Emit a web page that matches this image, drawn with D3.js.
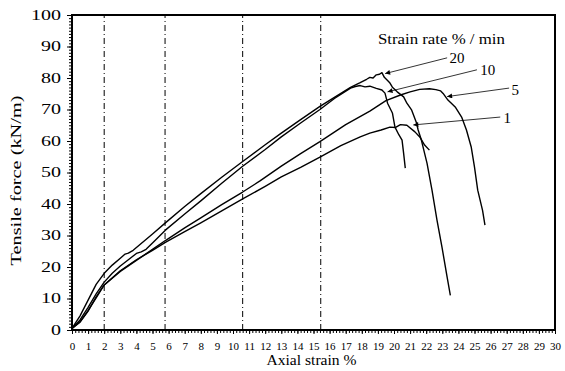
<!DOCTYPE html>
<html>
<head>
<meta charset="utf-8">
<script src="https://cdn.jsdelivr.net/npm/d3@7"></script>
<style>
body { margin: 0; background: #fff; }
svg text { fill: #000; }
</style>
</head>
<body>
<script>
var width = 565, height = 371;
var margin = {left: 72, top: 15, right: 10, bottom: 41};
var serif = "'Liberation Serif', 'Times New Roman', serif";

// strain (%) and force (kN/m)
var rate20 = [[0,0.5],[0.5,4.5],[1,9.5],[1.5,14.5],[2,18],[2.5,20.6],[3,22.8],[3.3,24.1],[3.5,24.4],[3.8,25.3],[5,30.5],[5.8,34],
  [7,39.2],[8,43.3],[9.3,48.5],[10.6,53.5],[12,58.8],[13,62.5],[14.2,66.8],[15.4,71],[16.5,74.5],[17.3,77],[17.9,78.5],
  [18.3,79.6],[18.5,80.2],[18.7,80],[18.9,81],[19.1,81.2],[19.25,81.7],[19.4,80.2],[19.6,79.2],[19.75,78.4],[19.9,77.1],
  [20.2,75.6],[20.6,74],[20.8,72],[21.1,69.8],[21.4,65.7],[21.5,63.5],[21.7,60.3],[22.05,53],[22.36,44.4],[22.67,34.9],
  [22.98,26.3],[23.3,16.8],[23.5,11]];
var rate10 = [[0,0.5],[0.5,3.2],[1,7.2],[1.5,11.5],[2,15.2],[2.5,18],[3,20.3],[3.5,22.3],[4,24.3],[4.3,24.8],[4.6,25.6],[5,27.6],[5.8,31.7],
  [7,36.8],[8,41],[9.3,46.6],[10.6,52],[12,57.3],[13,61.3],[14.2,65.7],[15.4,70],[16.3,73.5],[17.3,76.8],[17.6,77.3],
  [17.9,77.6],[18.2,77.2],[18.5,77.4],[18.9,76.7],[19.25,76.2],[19.44,75.2],[19.6,72],[19.9,68.9],[20.06,64.4],[20.3,62],
  [20.5,60.3],[20.6,56],[20.7,51.4]];
var rate5 = [[0,0.5],[0.5,2.6],[1,6.2],[1.5,10.2],[2,14.3],[3,18.6],[4,22.1],[5,25.6],[5.8,28.4],[7,32.4],[8,35.6],
  [9.3,39.8],[10.6,43.8],[11.7,47.4],[13,52],[14.2,56],[15.4,59.8],[17,65.2],[18.5,69.5],[19.5,72.8],[20.4,74.6],
  [21,75.6],[21.6,76.4],[22.2,76.6],[22.6,76.3],[22.9,75.9],[23.05,75.1],[23.35,73],[23.8,70.8],[24.2,67.6],
  [24.5,63.5],[24.8,58],[25,51.7],[25.2,44.4],[25.5,38],[25.65,33.3]];
var rate1 = [[0,0.5],[0.5,2.5],[1,6],[1.5,10.5],[2,14.3],[3,18.8],[4,22.3],[5,25.3],[5.8,27.8],[7,31.2],[8,34],[9.3,37.8],
  [10.6,41.6],[12,45.6],[13,48.6],[14.2,51.6],[15.4,54.9],[16.7,58.5],[17.9,61.3],[18.5,62.5],[19.2,63.5],[19.75,64.4],
  [20.1,64.3],[20.4,65.2],[20.8,65],[21.3,62.9],[21.6,61.3],[21.9,58.7],[22.2,57.1]];
var series = [rate1, rate5, rate10, rate20];

var refLines = [2, 5.78, 10.6, 15.45];
var xTicks = d3.range(0, 31, 1);
var yTicks = d3.range(0, 101, 10);

var labelNames = ["20", "10", "5", "1"];
var labelPos = [[23.45, 86.3], [25.35, 82.7], [27.3, 76.4], [26.8, 67.4]];
var arrowFrom = [[23.3, 86.4], [25.15, 82.6], [27.15, 76.8], [26.6, 67.6]];
var arrowTo = [[19.45, 81.4], [19.6, 75.6], [23.3, 74.1], [21.2, 65.1]];

var x = d3.scaleLinear().domain([0, 30]).range([margin.left, width - margin.right]);
var y = d3.scaleLinear().domain([0, 100]).range([height - margin.bottom, margin.top]);

var svg = d3.select("body").append("svg")
  .attr("width", width).attr("height", height);

svg.append("defs").append("marker")
  .attr("id", "arr").attr("viewBox", "0 0 10 10")
  .attr("refX", 10).attr("refY", 5)
  .attr("markerWidth", 7).attr("markerHeight", 5)
  .attr("markerUnits", "userSpaceOnUse")
  .attr("orient", "auto")
  .append("path").attr("d", "M0,0L10,5L0,10z").attr("fill", "#000");

// dash-dot reference lines
svg.selectAll(".ref").data(refLines).enter().append("line")
  .attr("x1", function(d) { return x(d); }).attr("x2", function(d) { return x(d); })
  .attr("y1", y(0)).attr("y2", y(100))
  .attr("stroke", "#000").attr("stroke-width", 1)
  .attr("stroke-dasharray", "6,3,1,3");

// minor ticks
svg.append("g").attr("transform", "translate(0," + y(0) + ")")
  .call(d3.axisBottom(x).tickValues(d3.range(0, 30.01, 0.2)).tickSize(3).tickFormat(""))
  .call(function(g) { g.select(".domain").remove(); });
svg.append("g").attr("transform", "translate(" + x(0) + ",0)")
  .call(d3.axisLeft(y).tickValues(d3.range(0, 100.1, 1)).tickSize(3).tickFormat(""))
  .call(function(g) { g.select(".domain").remove(); });

// major ticks + labels
var xa = svg.append("g").attr("transform", "translate(0," + y(0) + ")")
  .call(d3.axisBottom(x).tickValues(xTicks).tickSize(4).tickPadding(8));
xa.attr("font-family", serif);
xa.select(".domain").remove();
xa.selectAll("text").attr("font-size", 11);

var ya = svg.append("g").attr("transform", "translate(" + x(0) + ",0)")
  .call(d3.axisLeft(y).tickValues(yTicks).tickSize(5).tickPadding(6));
ya.attr("font-family", serif);
ya.select(".domain").remove();
ya.selectAll("text").attr("font-size", 14)
  .attr("textLength", function(d) { return String(d).length * 10; })
  .attr("lengthAdjust", "spacingAndGlyphs");

// frame
svg.append("rect")
  .attr("x", x(0)).attr("y", y(100))
  .attr("width", x(30) - x(0)).attr("height", y(0) - y(100))
  .attr("fill", "none").attr("stroke", "#000").attr("stroke-width", 2);

var line = d3.line()
  .x(function(d) { return x(d[0]); })
  .y(function(d) { return y(d[1]); });

svg.selectAll(".curve").data(series).enter().append("path")
  .attr("d", line)
  .attr("fill", "none").attr("stroke", "#000").attr("stroke-width", 1.4)
  .attr("stroke-linejoin", "round");

// annotations
svg.selectAll(".arrow").data(arrowFrom).enter().append("line")
  .attr("x1", function(d) { return x(d[0]); }).attr("y1", function(d) { return y(d[1]); })
  .attr("x2", function(d, i) { return x(arrowTo[i][0]); }).attr("y2", function(d, i) { return y(arrowTo[i][1]); })
  .attr("stroke", "#000").attr("stroke-width", 0.8)
  .attr("marker-end", "url(#arr)");

svg.selectAll(".lab").data(labelNames).enter().append("text")
  .attr("x", function(d, i) { return x(labelPos[i][0]); })
  .attr("y", function(d, i) { return y(labelPos[i][1]); })
  .attr("dy", "0.35em").attr("font-size", 15).attr("font-family", serif)
  .text(function(d) { return d; });

svg.append("text").attr("x", x(19.0)).attr("y", y(92.5))
  .attr("dy", "0.35em").attr("font-size", 14).attr("font-family", serif)
  .attr("textLength", 127).attr("lengthAdjust", "spacingAndGlyphs")
  .text("Strain rate % / min");

svg.append("text").attr("x", (x(0) + x(30)) / 2 - 2).attr("y", 365)
  .attr("text-anchor", "middle").attr("font-size", 15).attr("font-family", serif)
  .attr("textLength", 90).attr("lengthAdjust", "spacingAndGlyphs")
  .text("Axial strain %");

svg.append("text")
  .attr("transform", "translate(21," + ((y(0) + y(100)) / 2 + 8) + ") rotate(-90)")
  .attr("text-anchor", "middle").attr("font-size", 14).attr("font-family", serif)
  .attr("textLength", 170).attr("lengthAdjust", "spacingAndGlyphs")
  .text("Tensile force (kN/m)");
</script>
</body>
</html>
